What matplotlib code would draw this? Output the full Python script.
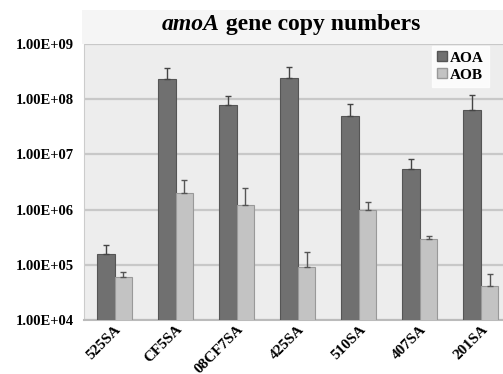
import matplotlib.pyplot as plt
import matplotlib.patches as mpatches
from matplotlib.font_manager import FontProperties
import numpy as np

sites = ["525SA", "CF5SA", "08CF7SA", "425SA", "510SA", "407SA", "201SA"]
aoa = [1.57e5, 2.36e8, 7.7e7, 2.42e8, 4.9e7, 5.4e6, 6.3e7]
aoa_err = [0.73e5, 1.34e8, 3.9e7, 1.38e8, 3.3e7, 2.9e6, 5.4e7]
aob = [5.9e4, 2.0e6, 1.22e6, 9.1e4, 9.7e5, 2.9e5, 4.2e4]
aob_err = [1.5e4, 1.5e6, 1.28e6, 0.8e5, 4.3e5, 0.4e5, 2.6e4]

ticks = [1e4, 1e5, 1e6, 1e7, 1e8, 1e9]
tick_labels = ["1.00E+04", "1.00E+05", "1.00E+06", "1.00E+07", "1.00E+08", "1.00E+09"]

SERIF = "Liberation Serif"
W, H = 503, 374
fig = plt.figure(figsize=(W / 100, H / 100), dpi=100)
fig.patch.set_facecolor("white")

# light panel behind the title, as in the original screenshot
fig.patches.append(mpatches.Rectangle((82 / W, 1 - 44 / H), 1, 34 / H,
                                      transform=fig.transFigure,
                                      facecolor="#f5f5f5", edgecolor="none", zorder=0))

# axes run slightly past the right edge (the original is cropped)
ax = fig.add_axes([84 / W, 1 - 320 / H, 427.5 / W, 276 / H])
ax.set_facecolor("#ededed")

x = np.arange(len(sites))
w = 0.287
ax.bar(x - w / 2, aoa, w, color="#707070", edgecolor="#555555", linewidth=0.8,
       yerr=[np.zeros(len(aoa)), aoa_err], error_kw=dict(ecolor="#444444", elinewidth=1, capsize=2, capthick=1),
       label="AOA", zorder=3)
ax.bar(x + w / 2, aob, w, color="#c3c3c3", edgecolor="#999999", linewidth=0.8,
       yerr=[np.zeros(len(aob)), aob_err], error_kw=dict(ecolor="#555555", elinewidth=1, capsize=2, capthick=1),
       label="AOB", zorder=3)

ax.set_yscale("log")
ax.set_ylim(1e4, 1e9)
ax.set_xlim(-0.5, len(sites) - 0.5)
ax.set_yticks(ticks)
ax.set_yticklabels(tick_labels, fontfamily=SERIF, fontweight="bold", fontsize=10.5)
ax.minorticks_off()
ax.yaxis.grid(True, color="#c8c8c8", linewidth=1.6, zorder=0)
ax.set_axisbelow(True)
ax.tick_params(axis="y", length=0, pad=7)
ax.tick_params(axis="x", length=0, pad=2)
ax.set_xticks(x)
ax.set_xticklabels(sites, rotation=45, ha="right", rotation_mode="anchor",
                   fontfamily=SERIF, fontweight="bold", fontsize=11)
for s in ["top", "right"]:
    ax.spines[s].set_visible(False)
ax.spines["left"].set_color("#cccccc")
ax.spines["bottom"].set_color("#bbbbbb")
ax.spines["bottom"].set_linewidth(1.5)

# title: italic "amoA" followed by upright bold text
ty = 1 - 30 / H
t1 = fig.text(162 / W, ty, "amoA", ha="left", va="baseline",
              fontfamily=SERIF, fontweight="bold", fontstyle="italic", fontsize=17)
fig.canvas.draw()
bb = t1.get_window_extent()
fig.text(bb.x1 / W, ty, " gene copy numbers", ha="left", va="baseline",
         fontfamily=SERIF, fontweight="bold", fontsize=17)

handles = [mpatches.Patch(facecolor="#707070", edgecolor="#555555"),
           mpatches.Patch(facecolor="#c3c3c3", edgecolor="#999999")]
leg = fig.legend(handles, ["AOA", "AOB"], loc="upper left", bbox_to_anchor=(432 / W, 1 - 46 / H),
                 prop=FontProperties(family=SERIF, weight="bold", size=11),
                 frameon=True, fancybox=False, handlelength=0.6, handleheight=0.6,
                 handletextpad=0.2, borderpad=0.35, labelspacing=0.25, borderaxespad=0)
leg.get_frame().set_facecolor("white")
leg.get_frame().set_edgecolor("white")

fig.savefig("out.png", dpi=100)
